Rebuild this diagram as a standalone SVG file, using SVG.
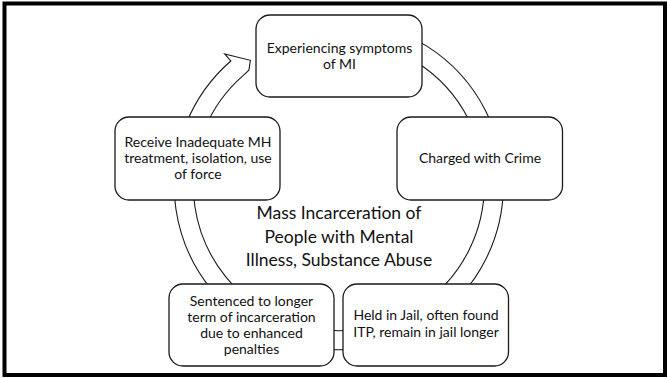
<svg xmlns="http://www.w3.org/2000/svg" width="668" height="378" viewBox="0 0 668 378">
  <style>
    .frame { fill: #ffffff; stroke: #000000; stroke-width: 4; }
    .box { fill: #ffffff; stroke: #1a1a1a; stroke-width: 1.3; }
    .ring { fill: #ffffff; stroke: #1a1a1a; stroke-width: 1.1; stroke-linejoin: miter; }
    .lbl { font-family: Lato, "Liberation Sans", sans-serif; font-size: 14px; fill: #111111; text-anchor: middle; }
    .title { font-family: Lato, "Liberation Sans", sans-serif; font-size: 17.5px; fill: #111111; text-anchor: middle; }
  </style>
  <rect class="frame" x="4.5" y="3.5" width="660.5" height="371.5"/>
  <g id="connectors">
    <path class="ring" d="M 269.24 36.02 A 164.6 164.6 0 1 1 230.81 60.97 L 224.65 53.88 L 250.38 60.34 L 248.9 70.15 L 243.34 75.39 A 145.5 145.5 0 1 0 277.31 53.33 Z"/>
  </g>
  <g id="center-title">
    <text class="title" x="339" y="219">Mass Incarceration of</text>
    <text class="title" x="339" y="243">People with Mental</text>
    <text class="title" x="339" y="266">Illness, Substance Abuse</text>
  </g>
  <g id="node-symptoms">
    <rect class="box" x="256" y="15" width="166" height="82" rx="14"/>
    <text class="lbl" x="339.5" y="52.5">Experiencing symptoms</text>
    <text class="lbl" x="339.5" y="68.5">of MI</text>
  </g>
  <g id="node-charged">
    <rect class="box" x="397" y="117" width="165.5" height="83" rx="14"/>
    <text class="lbl" x="480" y="163">Charged with Crime</text>
  </g>
  <g id="node-held">
    <rect class="box" x="343" y="284" width="165.5" height="82" rx="14"/>
    <text class="lbl" x="426" y="320">Held in Jail, often found</text>
    <text class="lbl" x="426" y="336.5">ITP, remain in jail longer</text>
  </g>
  <g id="node-sentenced">
    <rect class="box" x="169" y="284" width="165" height="82" rx="14"/>
    <text class="lbl" x="251.5" y="305.5">Sentenced to longer</text>
    <text class="lbl" x="251.5" y="321.5">term of incarceration</text>
    <text class="lbl" x="251.5" y="337.5">due to enhanced</text>
    <text class="lbl" x="251.5" y="353.5">penalties</text>
  </g>
  <g id="node-receive">
    <rect class="box" x="115" y="117" width="165" height="83" rx="14"/>
    <text class="lbl" x="198" y="146.5">Receive Inadequate MH</text>
    <text class="lbl" x="198" y="162.5">treatment, isolation, use</text>
    <text class="lbl" x="198" y="178.5">of force</text>
  </g>
</svg>
